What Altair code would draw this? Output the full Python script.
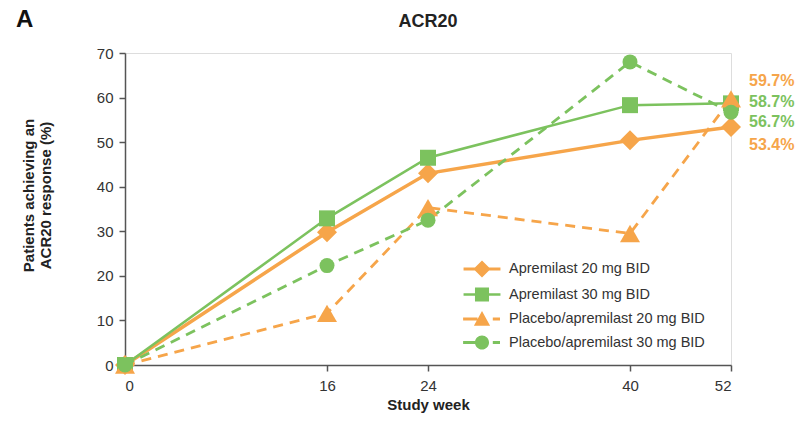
import altair as alt
import pandas as pd

weeks = [0, 16, 24, 40, 52]
series_names = [
    "Apremilast 20 mg BID",
    "Apremilast 30 mg BID",
    "Placebo/apremilast 20 mg BID",
    "Placebo/apremilast 30 mg BID",
]
apr20 = [0, 29.8, 43.0, 50.4, 53.4]
apr30 = [0, 32.9, 46.5, 58.3, 58.7]
pbo20 = [0, 11.6, 35.3, 29.5, 59.7]
pbo30 = [0, 22.3, 32.5, 68.0, 56.7]

end_labels = ["53.4%", "58.7%", "59.7%", "56.7%"]
end_label_at = [49.4, 59.0, 63.7, 54.5]
y_ticks = [0, 10, 20, 30, 40, 50, 60, 70]

ORANGE = "#F6A54A"
GREEN = "#7CC25E"
series_colors = [ORANGE, GREEN, ORANGE, GREEN]
series_shapes = ["diamond", "square", "triangle-up", "circle"]
series_sizes = [400, 256, 400, 225]
series_widths = [3.5, 2.5, 2.8, 2.8]
series_dashes = [None, None, [10, 7], [10, 7]]
# legend glyphs: filled line segments + marker, in symbol units (1 unit = 9 px)
legend_paths = [
    "M-2.05,-0.18H2.05V0.18H-2.05Z M0,-0.95L0.95,0L0,0.95L-0.95,0Z",
    "M-2.05,-0.14H2.05V0.14H-2.05Z M-0.78,-0.78H0.78V0.78H-0.78Z",
    "M-2.1,-0.16H-0.5V0.16H-2.1Z M1.2,-0.16H2.0V0.16H1.2Z M0,-0.9L0.9,0.75L-0.9,0.75Z",
    "M-2.1,-0.16H-0.5V0.16H-2.1Z M1.2,-0.16H2.0V0.16H1.2Z M0.78,0A0.78,0.78 0 1,1 -0.78,0A0.78,0.78 0 1,1 0.78,0Z",
]

rows = []
for name, vals in zip(series_names, [apr20, apr30, pbo20, pbo30]):
    for w, v in zip(weeks, vals):
        rows.append({"series": name, "week": w, "value": v})
df = pd.DataFrame(rows)

lab_df = pd.DataFrame({
    "series": series_names,
    "week": [52] * 4,
    "label": end_labels,
    "at": end_label_at,
})
leg_df = pd.DataFrame({"series": series_names})

FONT = "Liberation Sans"

x_enc = alt.X(
    "week:Q",
    scale=alt.Scale(domain=[0, 40, 52], range=[0, 505, 606], nice=False, zero=False),
    axis=alt.Axis(
        values=weeks, title="Study week", grid=False, labelFontSize=15,
        labelPadding=7, tickSize=6, titleFontSize=15, titleFontWeight="bold",
        titlePadding=4, labelColor="#333", titleColor="#222",
        domainColor="#555", tickColor="#555", domainWidth=1.5, tickWidth=1.5,
        labelFont=FONT, titleFont=FONT,
    ),
)
y_enc = alt.Y(
    "value:Q",
    scale=alt.Scale(domain=[0, 70], nice=False),
    axis=alt.Axis(
        values=y_ticks, title=["Patients achieving an", "ACR20 response (%)"],
        grid=False, labelFontSize=15, labelPadding=6, tickSize=6,
        titleFontSize=15, titleFontWeight="bold", labelColor="#333",
        titleColor="#222", domainColor="#555", tickColor="#555",
        domainWidth=1.5, tickWidth=1.5, labelFont=FONT, titleFont=FONT,
        titleX=-89, titleY=142, titleAlign="center", titleBaseline="bottom",
        titleLineHeight=17,
    ),
)

line_layers, point_layers, label_layers = [], [], []
for i, (name, col, shp, sz, sw, dash) in enumerate(
    zip(series_names, series_colors, series_shapes, series_sizes, series_widths, series_dashes)
):
    line_kw = dict(color=col, strokeWidth=sw)
    if dash:
        line_kw["strokeDash"] = dash
    base = alt.Chart(df).transform_filter(alt.datum.series == name)
    if i == 0:
        line_layers.append(base.mark_line(**line_kw).encode(x=x_enc, y=y_enc))
    else:
        line_layers.append(base.mark_line(**line_kw).encode(x="week:Q", y="value:Q"))
    point_layers.append(
        base.mark_point(filled=True, opacity=1, shape=shp, size=sz, color=col).encode(
            x="week:Q", y="value:Q"
        )
    )
    label_layers.append(
        alt.Chart(lab_df).transform_filter(alt.datum.series == name).mark_text(
            align="left", baseline="middle", dx=18, fontSize=16, fontWeight="bold",
            font=FONT, color=col,
        ).encode(x="week:Q", y="at:Q", text="label:N")
    )

leg_kwargs = dict(
    title=None, orient="none", legendX=348, legendY=207, padding=0,
    labelFont=FONT, labelFontSize=14.5, labelColor="#333", symbolSize=324,
    symbolStrokeWidth=0, rowPadding=7.5, labelOffset=18, symbolOpacity=1,
    labelLimit=400,
)
legend_layer = alt.Chart(leg_df).mark_point(filled=True, opacity=0).encode(
    color=alt.Color("series:N", scale=alt.Scale(domain=series_names, range=series_colors),
                    legend=alt.Legend(**leg_kwargs)),
    shape=alt.Shape("series:N", scale=alt.Scale(domain=series_names, range=legend_paths),
                    legend=alt.Legend(**leg_kwargs)),
)

panel = alt.Chart(pd.DataFrame({"t": ["A"]})).mark_text(
    align="left", baseline="alphabetic", fontSize=24, fontWeight="bold", font=FONT, color="#111"
).encode(x=alt.value(-109), y=alt.value(-26), text="t:N")

heading = alt.Chart(pd.DataFrame({"t": ["ACR20"]})).mark_text(
    align="center", baseline="alphabetic", fontSize=18, fontWeight="bold", font=FONT, color="#222"
).encode(x=alt.value(303), y=alt.value(-26), text="t:N")

chart = alt.layer(
    *line_layers, *point_layers, legend_layer, *label_layers, panel, heading
).properties(
    width=606,
    height=312,
    padding={"left": 117, "top": 45, "right": 67, "bottom": 49},
    autosize=alt.AutoSizeParams(type="none"),
).configure_view(stroke=None).configure(background="white")

chart.save("out.html", embed_options={"renderer": "svg", "actions": False})
